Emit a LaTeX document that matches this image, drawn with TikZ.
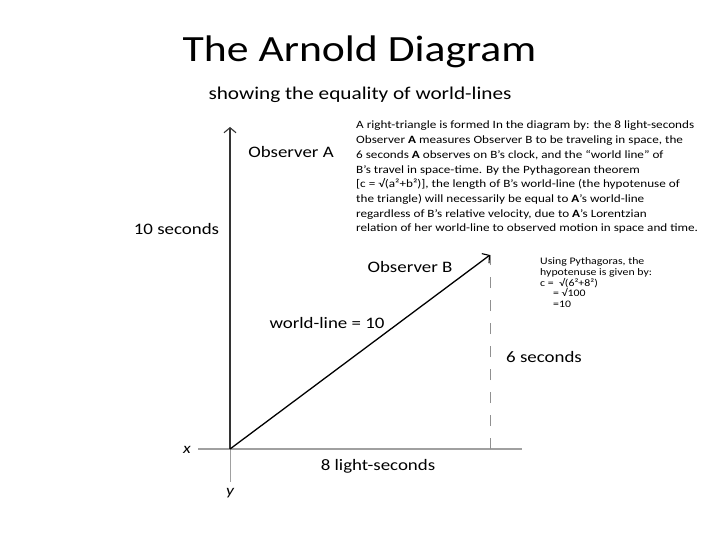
\documentclass[tikz,border=0pt]{standalone}
\usepackage{fontspec}
\setmainfont{Carlito}[FakeStretch=1.18]
\usetikzlibrary{arrows.meta}
\definecolor{axisgray}{HTML}{A0A0A0}
\definecolor{dashgray}{HTML}{909090}
\tikzset{
  lbl/.style={inner sep=0pt, anchor=base},
  para/.style={inner sep=0pt, anchor=base west, font=\fontsize{11.15}{14.7}\selectfont},
  small/.style={inner sep=0pt, anchor=base west, font=\fontsize{10}{11}\selectfont},
  axisline/.style={draw=black!80, line width=1.3pt},
  barb/.style={-{Straight Barb[length=5pt,width=12pt,line width=1.1pt]}},
}
\begin{document}
\begin{tikzpicture}[x=1pt,y=-1pt]
\useasboundingbox[fill=white] (0,0) rectangle (720,540);
% titles
\node[lbl, font=\fontsize{37}{40}\selectfont] (title) at (359.5,62) {The Arnold Diagram};
\node[lbl, font=\fontsize{18}{20}\selectfont] (sub) at (360,100) {showing the equality of world-lines};
% coordinates
\coordinate (O) at (230,449);
\coordinate (Ytop) at (230,127);
\coordinate (Ybot) at (230,482);
\coordinate (Xl) at (198,449);
\coordinate (Xr) at (522,449);
\coordinate (B) at (490,255);
\coordinate (Bf) at (490,449);
% axes
\draw[axisgray, line width=2pt] (Xl) -- (Xr);
\draw[axisgray, line width=1pt] (O) -- (Ybot);
\draw[axisline, barb] (O) -- (Ytop);
\draw[black, line width=1.3pt, barb] (O) -- (B);
\draw[dashgray, line width=0.9pt, dash pattern=on 11pt off 12pt] (Bf) -- (B);
% labels
\node[lbl, font=\fontsize{16}{18}\selectfont] (obsA) at (291,158) {Observer A};
\node[lbl, font=\fontsize{16}{18}\selectfont] (ten) at (176.5,234) {10 seconds};
\node[lbl, font=\fontsize{16}{18}\selectfont] (obsB) at (410,272) {Observer B};
\node[lbl, font=\fontsize{16}{18}\selectfont] (wl) at (327,328) {world-line = 10};
\node[inner sep=0pt, anchor=base west, font=\fontsize{16}{18}\selectfont] (six) at (506,362) {6 seconds};
\node[lbl, font=\fontsize{16}{18}\selectfont] (eight) at (378,470) {8 light-seconds};
\node[lbl, font=\fontsize{15}{18}\itshape] (xl) at (187,453) {x};
\node[lbl, font=\fontsize{15}{18}\itshape] (yl) at (230,495) {y};
% paragraph
\node[para] (p1) at (356,129.0) {A right-triangle is formed In the diagram by: the 8 light-seconds};
\node[para] (p2) at (356,143.7) {Observer \textbf{A} measures Observer B to be traveling in space, the};
\node[para] (p3) at (356,158.4) {6 seconds \textbf{A} observes on B’s clock, and the “world line” of};
\node[para] (p4) at (356,173.1) {B’s travel in space-time.  By the Pythagorean theorem};
\node[para] (p5) at (356,187.8) {[c = √(a²+b²)], the length of B’s world-line (the hypotenuse of};
\node[para] (p6) at (356,202.5) {the triangle) will necessarily be equal to \textbf{A}’s world-line};
\node[para] (p7) at (356,217.2) {regardless of B’s relative velocity, due to \textbf{A}’s Lorentzian};
\node[para] (p8) at (356,231.9) {relation of her world-line to observed motion in space and time.};
% side calc
\node[small] (c1) at (540,264) {Using Pythagoras, the};
\node[small] (c2) at (540,275) {hypotenuse is given by:};
\node[small] (c3) at (540,286) {c =\ \ √(6²+8²)};
\node[small] (c4) at (553,296.5) {= √100};
\node[small] (c5) at (553,307) {=10};
\end{tikzpicture}
\end{document}
